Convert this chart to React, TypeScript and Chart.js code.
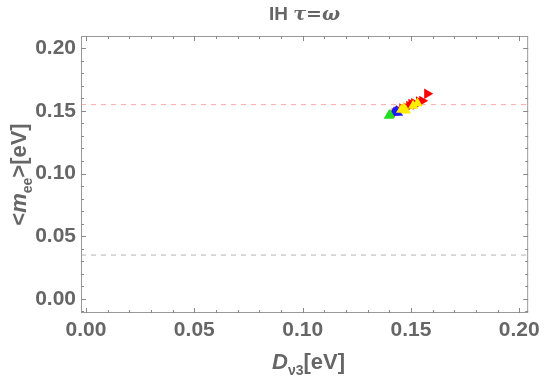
import React, { useEffect, useRef } from "react";
import { Chart, registerables } from "chart.js";

Chart.register(...registerables);

const xTicks = [0, 0.05, 0.1, 0.15, 0.2];
const yTicks = [0, 0.05, 0.1, 0.15, 0.2];
const xMin = -0.0023;
const xMax = 0.2041;
const yMin = -0.0112;
const yMax = 0.2097;
const upperBound = 0.155;
const lowerBound = 0.035;

const greenPts = [
  { x: 0.1398, y: 0.1462 },
  { x: 0.1403, y: 0.1468 },
];
const bluePts = [
  { x: 0.1422, y: 0.1488 },
  { x: 0.1432, y: 0.1498 },
  { x: 0.1440, y: 0.1484 },
];
const redPts = [
  { x: 0.1425, y: 0.1482 },
  { x: 0.1448, y: 0.1500 },
  { x: 0.1460, y: 0.1520 },
  { x: 0.1480, y: 0.1525 },
  { x: 0.1492, y: 0.1540 },
  { x: 0.1502, y: 0.1555 },
  { x: 0.1515, y: 0.1562 },
  { x: 0.1522, y: 0.1550 },
  { x: 0.1537, y: 0.1575 },
  { x: 0.1552, y: 0.1580 },
  { x: 0.1575, y: 0.1637 },
];
const yellowPts = [
  { x: 0.1455, y: 0.1508 },
  { x: 0.1468, y: 0.1520 },
  { x: 0.1476, y: 0.1503 },
  { x: 0.1510, y: 0.1540 },
  { x: 0.1530, y: 0.1560 },
];

const TXT = "#666666";
const FAM = "'Liberation Sans', Arial, sans-serif";

const framePlugin = {
  id: "frame",
  afterDraw(chart: any) {
    const { ctx, chartArea: a } = chart;
    const xs = chart.scales.x;
    const ys = chart.scales.y;
    ctx.save();
    ctx.strokeStyle = "#999999";
    ctx.lineWidth = 1;
    ctx.strokeRect(a.left + 0.5, a.top + 0.5, a.right - a.left - 1, a.bottom - a.top - 1);
    ctx.strokeStyle = "#888888";
    for (let i = -1; i <= 21; i++) {
      const v = i * 0.01;
      if (v < xMin || v > xMax) continue;
      const len = i % 5 === 0 ? 5 : 3;
      const px = Math.round(xs.getPixelForValue(v)) + 0.5;
      ctx.beginPath();
      ctx.moveTo(px, a.bottom);
      ctx.lineTo(px, a.bottom - len);
      ctx.moveTo(px, a.top);
      ctx.lineTo(px, a.top + len);
      ctx.stroke();
    }
    for (let i = -1; i <= 21; i++) {
      const v = i * 0.01;
      if (v < yMin || v > yMax) continue;
      const len = i % 5 === 0 ? 5 : 3;
      const py = Math.round(ys.getPixelForValue(v)) + 0.5;
      ctx.beginPath();
      ctx.moveTo(a.left, py);
      ctx.lineTo(a.left + len, py);
      ctx.moveTo(a.right, py);
      ctx.lineTo(a.right - len, py);
      ctx.stroke();
    }
    const cx = (a.left + a.right) / 2;
    ctx.fillStyle = TXT;
    ctx.textBaseline = "alphabetic";
    ctx.textAlign = "left";
    const drawRich = (parts: { t: string; f: string; dy: number }[], x0: number, y0: number) => {
      let tw = 0;
      for (const p of parts) {
        ctx.font = p.f;
        tw += ctx.measureText(p.t).width;
      }
      let x = x0 - tw / 2;
      for (const p of parts) {
        ctx.font = p.f;
        ctx.fillText(p.t, x, y0 + p.dy);
        x += ctx.measureText(p.t).width;
      }
    };
    drawRich(
      [
        { t: "IH ", f: `bold 19px ${FAM}`, dy: 0 },
        { t: "τ=ω", f: "italic bold 19px 'DejaVu Serif', serif", dy: 0 },
      ],
      cx,
      20
    );
    const fb = `bold 22px ${FAM}`;
    const fi = `italic bold 22px ${FAM}`;
    const fs = `bold 14px ${FAM}`;
    drawRich(
      [
        { t: "D", f: fi, dy: 0 },
        { t: "ν3", f: fs, dy: 6 },
        { t: "[eV]", f: fb, dy: 0 },
      ],
      cx + 4,
      369
    );
    ctx.save();
    ctx.translate(26, (a.top + a.bottom) / 2);
    ctx.rotate(-Math.PI / 2);
    drawRich(
      [
        { t: "<", f: fb, dy: 0 },
        { t: "m", f: fi, dy: 0 },
        { t: "ee", f: fs, dy: 6 },
        { t: ">[eV]", f: fb, dy: 0 },
      ],
      0,
      0
    );
    ctx.restore();
    ctx.restore();
  },
};

export default function App() {
  const ref = useRef<HTMLCanvasElement | null>(null);
  useEffect(() => {
    if (!ref.current) return;
    const tickFont = { family: FAM, size: 21, weight: "bold" as const };
    const mk = (label: string, data: any[], color: string, rot: number, order: number) => ({
      type: "scatter" as const,
      label,
      data,
      order,
      pointStyle: "triangle",
      rotation: rot,
      pointRadius: 6,
      backgroundColor: color,
      borderColor: color,
      borderWidth: 0,
      showLine: false,
    });
    const chart = new Chart(ref.current, {
      data: {
        datasets: [
          {
            type: "line" as const,
            label: "upper",
            order: 10,
            data: [
              { x: xMin, y: upperBound },
              { x: xMax, y: upperBound },
            ],
            borderColor: "rgba(255,150,150,0.8)",
            borderWidth: 1,
            borderDash: [5, 5],
            pointRadius: 0,
          },
          {
            type: "line" as const,
            label: "lower",
            order: 10,
            data: [
              { x: xMin, y: lowerBound },
              { x: xMax, y: lowerBound },
            ],
            borderColor: "rgba(160,160,160,0.8)",
            borderWidth: 1,
            borderDash: [5, 5],
            pointRadius: 0,
          },
          mk("red", redPts, "#ff0000", 90, 5),
          mk("green", greenPts, "#22dd22", 0, 2),
          mk("blue", bluePts, "#1a1aff", 0, 2),
          mk("yellow", yellowPts, "#ffee00", 0, 1),
        ],
      },
      options: {
        animation: false,
        responsive: true,
        maintainAspectRatio: false,
        layout: { padding: { top: 36, right: 14, left: 0, bottom: 0 } },
        plugins: { legend: { display: false }, tooltip: { enabled: false }, title: { display: false } },
        scales: {
          x: {
            type: "linear",
            min: xMin,
            max: xMax,
            grid: { display: false, drawTicks: false },
            border: { display: false },
            afterBuildTicks: (s: any) => {
              s.ticks = xTicks.map((v) => ({ value: v }));
            },
            afterFit: (s: any) => {
              s.height = 66;
            },
            ticks: {
              includeBounds: false,
              color: TXT,
              font: tickFont,
              padding: 5,
              maxRotation: 0,
              autoSkip: false,
              callback: (v: any) => Number(v).toFixed(2),
            },
          },
          y: {
            type: "linear",
            min: yMin,
            max: yMax,
            grid: { display: false, drawTicks: false },
            border: { display: false },
            afterBuildTicks: (s: any) => {
              s.ticks = yTicks.map((v) => ({ value: v }));
            },
            afterFit: (s: any) => {
              s.width = 81;
            },
            ticks: {
              includeBounds: false,
              color: TXT,
              font: tickFont,
              padding: 5,
              autoSkip: false,
              callback: (v: any) => Number(v).toFixed(2),
            },
          },
        },
      },
      plugins: [framePlugin],
    } as any);
    return () => chart.destroy();
  }, []);
  return (
    <div style={{ position: "fixed", left: 0, top: 0, width: 545, height: 379, background: "#fff" }}>
      <canvas ref={ref} />
    </div>
  );
}
